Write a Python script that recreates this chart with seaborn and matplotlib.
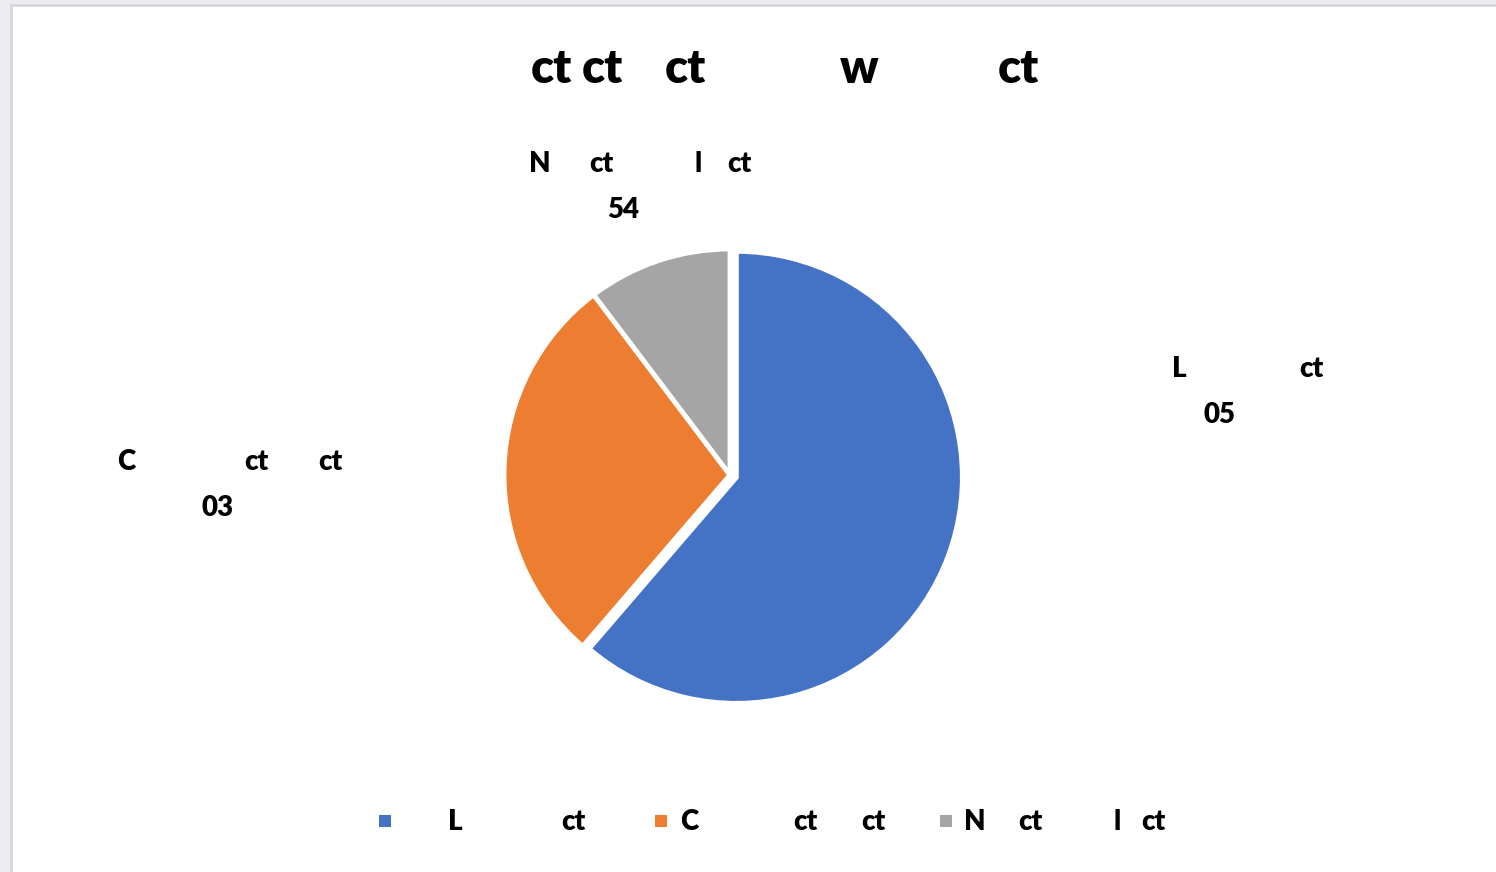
import matplotlib
matplotlib.use("Agg")
import matplotlib.pyplot as plt
from matplotlib.patches import Rectangle
import seaborn as sns

# Slice data
categories = ["L ct", "C ct ct", "N ct l ct"]
values = [61.3, 28.4, 10.3]
value_labels = ["05", "03", "54"]
colors = ["#4472C4", "#ED7D31", "#A5A5A5"]

# Title words
title = "ct ct ct w ct"

sns.set_theme(style="white")
plt.rcParams["font.family"] = ["Lato", "DejaVu Sans"]

W, H = 1496, 872
fig = plt.figure(figsize=(W / 100, H / 100), dpi=100, facecolor="#EBEBF0")

# White chart panel with thin grey border
panel = Rectangle((11 / W, -0.01), 1.0, (H - 5) / H + 0.01,
                  transform=fig.transFigure, facecolor="white",
                  edgecolor="#D6D6D6", linewidth=2, zorder=-5)
fig.patches.append(panel)


def px(x, y):
    return x / W, 1 - y / H


def words(x_list, y, text, size, weight="heavy"):
    for tok, x in zip(text.split(), x_list):
        fig.text(*px(x, y), tok, ha="center", va="center", fontsize=size,
                 fontweight=weight, color="black")


# Pie
cx, cy, r = 730, 475, 226
ax = fig.add_axes([(cx - r) / W, (H - cy - r) / H, 2 * r / W, 2 * r / H])
wedges, _ = ax.pie(values, colors=colors, startangle=90, counterclock=False,
                   explode=(0.03, 0, 0), radius=1,
                   wedgeprops=dict(edgecolor="white", linewidth=3.5))
for w in wedges:
    w.set_clip_on(False)
ax.set_xlim(-1, 1)
ax.set_ylim(-1, 1)
ax.set_aspect("equal")
ax.axis("off")

# Title
words([551, 602, 685, 859, 1018], 69, title, 34)

# Data labels: category name over value
label_words_x = [[1179, 1311], [126, 256, 330], [540, 601, 698, 739]]
label_y = [369, 462, 164]
value_x = [1220, 218, 623]
for cat, val, xs, y, vx in zip(categories, value_labels, label_words_x,
                               label_y, value_x):
    words(xs, y, cat, 20)
    words([vx], y + 46, val, 20)

# Legend: colour key squares followed by the category words
legend_y = 822
key_x = [385, 661, 946]
legend_words_x = [[455, 573], [689, 805, 873], [975, 1030, 1117, 1153]]
s = 12
for col, kx, cat, xs in zip(colors, key_x, categories, legend_words_x):
    fig.patches.append(Rectangle(((kx - s / 2) / W, 1 - (legend_y - 1 + s / 2) / H),
                                 s / W, s / H, transform=fig.transFigure,
                                 facecolor=col, edgecolor="none"))
    words(xs, legend_y, cat, 20)

fig.savefig("out.png", dpi=100, facecolor=fig.get_facecolor())
